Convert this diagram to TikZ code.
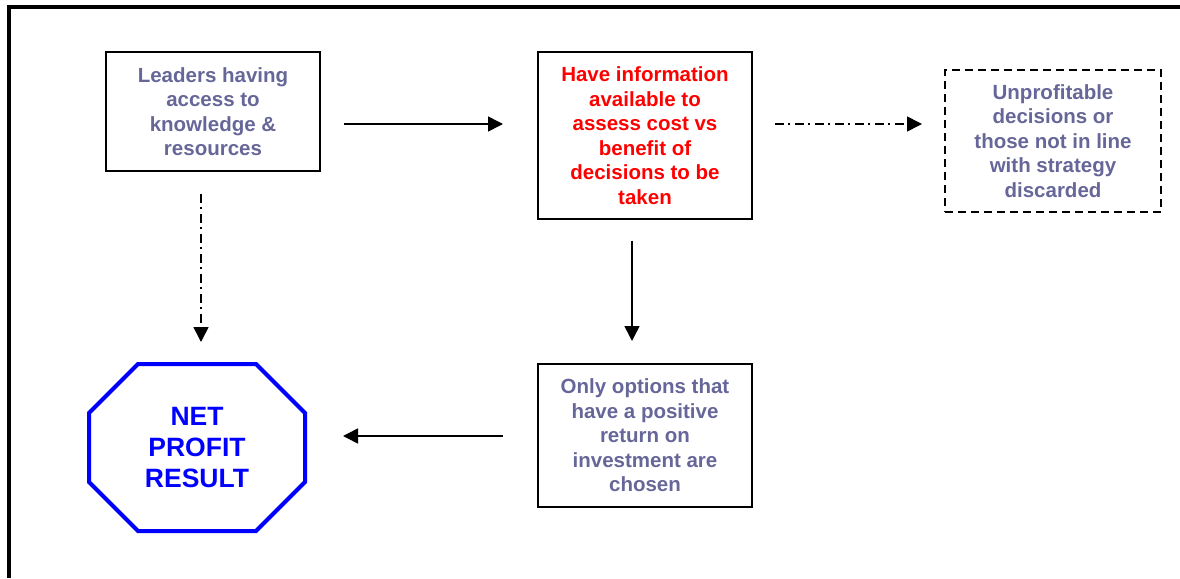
\documentclass[tikz,border=0pt]{standalone}
\usepackage{fontspec}
\setmainfont{Liberation Sans}
\usetikzlibrary{arrows.meta,calc}
\definecolor{slate}{HTML}{666699}
\definecolor{netblue}{HTML}{0000FF}
\begin{document}
\begin{tikzpicture}[x=1pt,y=-1pt,
  box/.style={draw=black,line width=2pt,inner sep=0pt,outer sep=0pt,align=center,
    font=\bfseries\fontsize{20.5}{24.5}\selectfont,text=slate},
  dbox/.style={box,dash pattern=on 8pt off 5pt},
  flow/.style={line width=1.6pt,-{Triangle[length=15pt,width=15pt]}},
  dashdot/.style={flow,dash pattern=on 9pt off 4pt on 2pt off 5pt}]
\useasboundingbox (0,0) rectangle (1180,578);
% outer frame
\draw[line width=4pt] (9,578) -- (9,7) -- (1180,7);

\node[box,minimum width=214pt,minimum height=119pt] (leaders) at (213,111.5)
  {Leaders having\\access to\\knowledge \&\\resources};
\node[box,text=red,minimum width=214pt,minimum height=166pt] (info) at (645,135.5)
  {Have information\\available to\\assess cost vs\\benefit of\\decisions to be\\taken};
\node[dbox,minimum width=216pt,minimum height=142pt] (discard) at (1053,141)
  {Unprofitable\\decisions or\\those not in line\\with strategy\\discarded};
\node[box,minimum width=214pt,minimum height=143pt] (options) at (645,435.5)
  {Only options that\\have a positive\\return on\\investment are\\chosen};

% octagon holding the result
\node[inner sep=0pt,outer sep=0pt,minimum width=216pt,minimum height=167pt,align=center,
  text=netblue,font=\bfseries\fontsize{26.5}{31}\selectfont] (net) at (197,447.5)
  {NET\\PROFIT\\RESULT};
\draw[netblue,line width=4pt,line join=miter]
  ($(net.north west)+(49,0)$) -- ($(net.north east)+(-49,0)$) --
  ($(net.north east)+(0,49)$) -- ($(net.south east)+(0,-49)$) --
  ($(net.south east)+(-49,0)$) -- ($(net.south west)+(49,0)$) --
  ($(net.south west)+(0,-49)$) -- ($(net.north west)+(0,49)$) -- cycle;

% connectors
\draw[flow,shorten <=24pt,shorten >=35pt]
  ([yshift=-12.5pt]leaders.east) -- ([yshift=-12.5pt]leaders.east -| info.west);
\draw[dashdot,shorten <=23pt,shorten >=23pt]
  ([yshift=11.5pt]info.east) -- ([yshift=11.5pt]info.east -| discard.west);
\draw[flow,shorten <=22pt,shorten >=23pt]
  ([xshift=-13pt]info.south) -- ([xshift=-13pt]info.south |- options.north);
\draw[dashdot,shorten <=23pt,shorten >=22pt]
  ([xshift=-12pt]leaders.south) -- ([xshift=-12pt]leaders.south |- net.north);
\draw[flow,shorten <=35pt,shorten >=38pt]
  ([yshift=-0.5pt]options.west) -- ([yshift=-0.5pt]options.west -| net.east);
\end{tikzpicture}
\end{document}
